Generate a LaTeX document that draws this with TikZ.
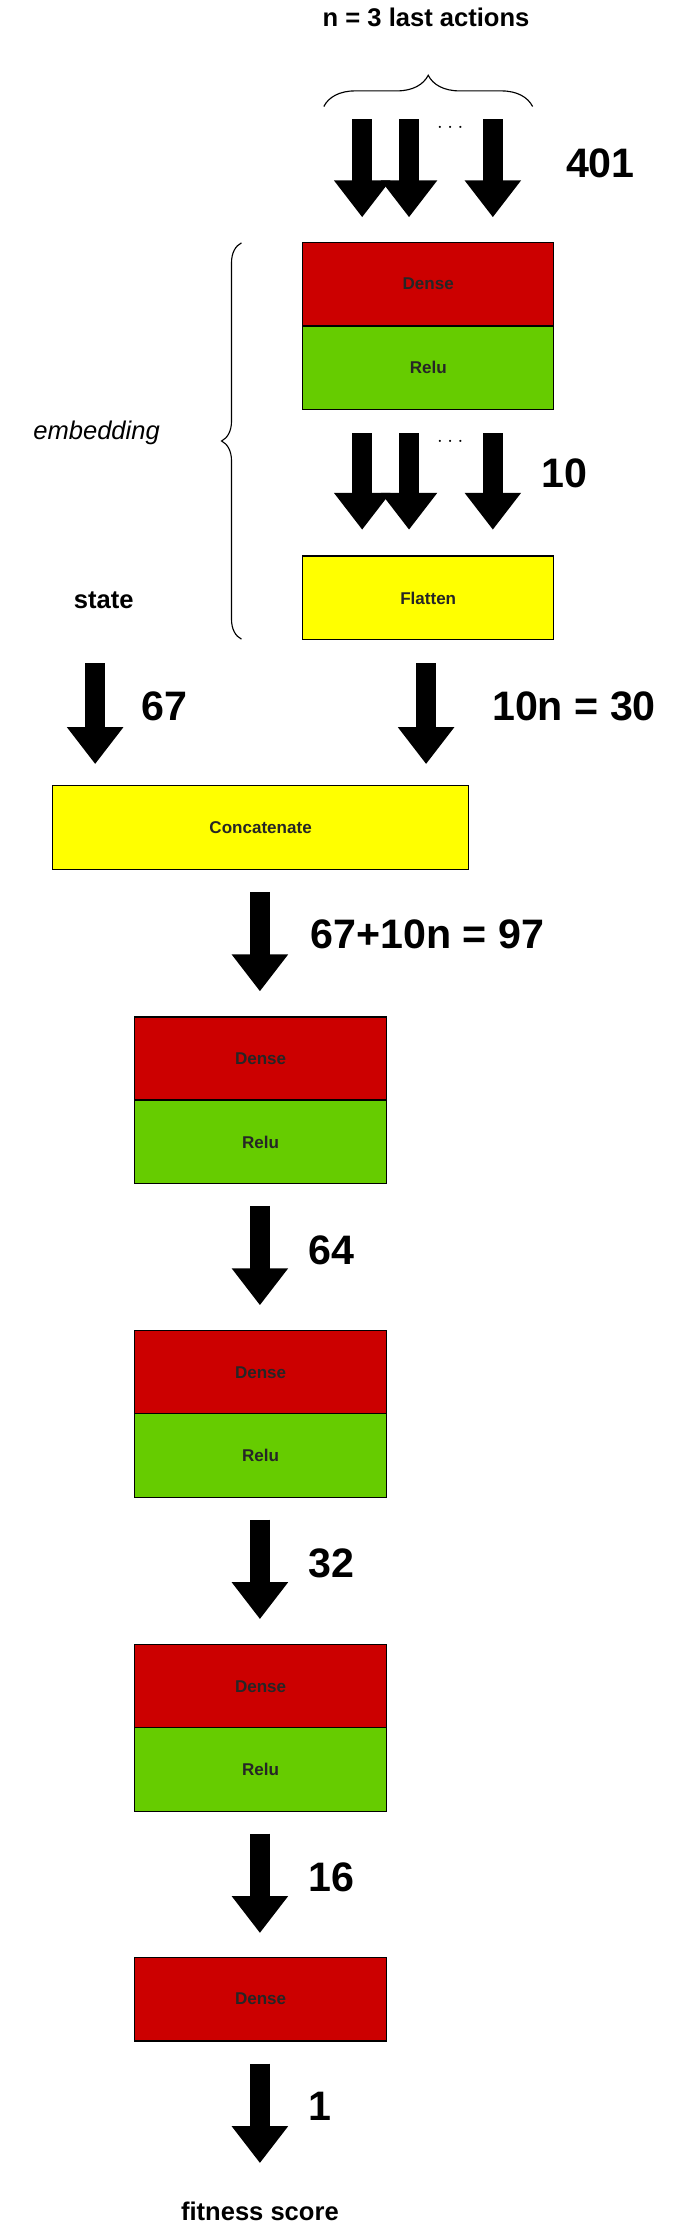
\documentclass[tikz,border=0pt]{standalone}
\usepackage{fontspec}
\setmainfont{Liberation Sans}
\usetikzlibrary{arrows.meta,decorations.pathreplacing}
\definecolor{dred}{HTML}{CC0000}
\definecolor{dgreen}{HTML}{66CC00}
\definecolor{dyel}{HTML}{FFFF00}
\tikzset{
 layer/.style={draw=black,line width=0.8pt,minimum height=59pt,text=black!85,font=\fontsize{12}{14}\selectfont\bfseries},
 dense/.style={layer,fill=dred},
 relu/.style={layer,fill=dgreen},
 yel/.style={layer,fill=dyel},
 flow/.style={line width=14pt,-{Triangle[width=38pt,length=26pt]}},
 num/.style={font=\fontsize{29}{30}\selectfont\bfseries,anchor=west},
 lab/.style={font=\fontsize{18}{20}\selectfont\bfseries},
 brace/.style={decorate,decoration={brace,amplitude=14pt},line width=0.8pt}
}
\begin{document}
\begin{tikzpicture}[x=1pt,y=-1pt]
\useasboundingbox (0,0) rectangle (482,1568);
\node[lab] (top) at (300,12) {n = 3 last actions};
\draw[brace,decoration={amplitude=22pt}] (228,75) -- (375,75);
\foreach \x/\n in {255/a1,288/a2,347/a3}{
 \coordinate (\n s) at (\x,84); \coordinate (\n e) at (\x,153);
 \draw[flow] (\n s) -- (\n e);}
\node[font=\fontsize{14}{14}\selectfont] (d1) at (317,90) {$\cdot\cdot\cdot$};
\node[num] (n401) at (395,115) {401};
\node[dense,minimum width=177pt] (D0) at (301.5,200) {Dense};
\node[relu,minimum width=177pt] (R0) at (301.5,259) {Relu};
\foreach \x/\n in {255/b1,288/b2,347/b3}{
 \coordinate (\n s) at (\x,305); \coordinate (\n e) at (\x,373);
 \draw[flow] (\n s) -- (\n e);}
\node[font=\fontsize{14}{14}\selectfont] (d2) at (317,311) {$\cdot\cdot\cdot$};
\node[num] (n10) at (378,333) {10};
\node[yel,minimum width=177pt] (F) at (301.5,421) {Flatten};
\draw[brace] (170,450) -- (170,171);
\node[font=\fontsize{18}{20}\selectfont\itshape] (emb) at (68,305) {embedding};
\node[lab] (state) at (73,423) {state};
\coordinate (s1) at (67,467); \coordinate (e1) at (67,538);
\draw[flow] (s1) -- (e1);
\node[num] (n67) at (96,497) {67};
\coordinate (s2) at (300,467); \coordinate (e2) at (300,538);
\draw[flow] (s2) -- (e2);
\node[num] (n30) at (343,497) {10n = 30};
\node[yel,minimum width=293pt] (C) at (183.5,582.5) {Concatenate};
\coordinate (s3) at (183,628); \coordinate (e3) at (183,698);
\draw[flow] (s3) -- (e3);
\node[num] (n97) at (215,658) {67+10n = 97};
\node[dense,minimum width=177pt] (D1) at (183.5,745.5) {Dense};
\node[relu,minimum width=177pt] (R1) at (183.5,804) {Relu};
\coordinate (s4) at (183,849); \coordinate (e4) at (183,919);
\draw[flow] (s4) -- (e4);
\node[num] (n64) at (214,880) {64};
\node[dense,minimum width=177pt] (D2) at (183.5,966.5) {Dense};
\node[relu,minimum width=177pt] (R2) at (183.5,1025) {Relu};
\coordinate (s5) at (183,1070); \coordinate (e5) at (183,1140);
\draw[flow] (s5) -- (e5);
\node[num] (n32) at (214,1101) {32};
\node[dense,minimum width=177pt] (D3) at (183.5,1187.5) {Dense};
\node[relu,minimum width=177pt] (R3) at (183.5,1246) {Relu};
\coordinate (s6) at (183,1291); \coordinate (e6) at (183,1361);
\draw[flow] (s6) -- (e6);
\node[num] (n16) at (214,1322) {16};
\node[dense,minimum width=177pt] (D4) at (183.5,1407.5) {Dense};
\coordinate (s7) at (183,1453); \coordinate (e7) at (183,1523);
\draw[flow] (s7) -- (e7);
\node[num] (n1) at (214,1483) {1};
\node[lab] (fit) at (183,1557) {fitness score};
\end{tikzpicture}
\end{document}
